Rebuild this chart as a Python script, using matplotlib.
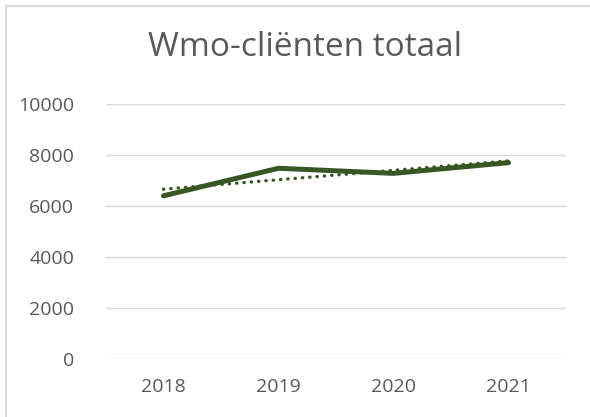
import numpy as np
import matplotlib
matplotlib.use('Agg')
import matplotlib.pyplot as plt
from matplotlib.patches import Rectangle

years = ['2018', '2019', '2020', '2021']
clients = [6400, 7480, 7280, 7700]
y_ticks = [0, 2000, 4000, 6000, 8000, 10000]

green = '#375623'
grey_text = '#595959'
grid_col = '#d9d9d9'

plt.rcParams['font.family'] = ['Open Sans', 'DejaVu Sans']

fig = plt.figure(figsize=(5.9, 4.17), dpi=100)
ax = fig.add_axes([106/590, 1 - 359/417, 460/590, 255/417])

x = np.arange(1, len(years) + 1)
# linear trendline, like Excel's
slope, icept = np.polyfit(x, clients, 1)
ax.plot(x, slope * x + icept, color=green, lw=2.4, ls=(0, (0.1, 2.1)),
        dash_capstyle='round', zorder=3)
ax.plot(x, clients, color=green, lw=3.6, solid_capstyle='round',
        solid_joinstyle='round', zorder=4)

ax.set_xlim(0.5, 4.5)
ax.set_ylim(0, 10000)
ax.set_xticks(x)
ax.set_xticklabels(years)
ax.set_yticks(y_ticks)
ax.grid(axis='y', color=grid_col, lw=1.0)
ax.set_axisbelow(True)
for s in ax.spines.values():
    s.set_visible(False)
ax.tick_params(length=0, labelsize=14, colors=grey_text)
ax.tick_params(axis='y', pad=23)
ax.tick_params(axis='x', pad=14)

fig.text(0.517, 1 - 48/417, 'Wmo-cliënten totaal', ha='center', va='center',
         fontsize=24, color=grey_text)

fig.patches.append(Rectangle((5.5/590, -0.1), 1.2, 1 - 5.5/417 + 0.1,
                             transform=fig.transFigure, fill=False,
                             edgecolor=grid_col, lw=1.3))

fig.savefig('out.png', dpi=100)
